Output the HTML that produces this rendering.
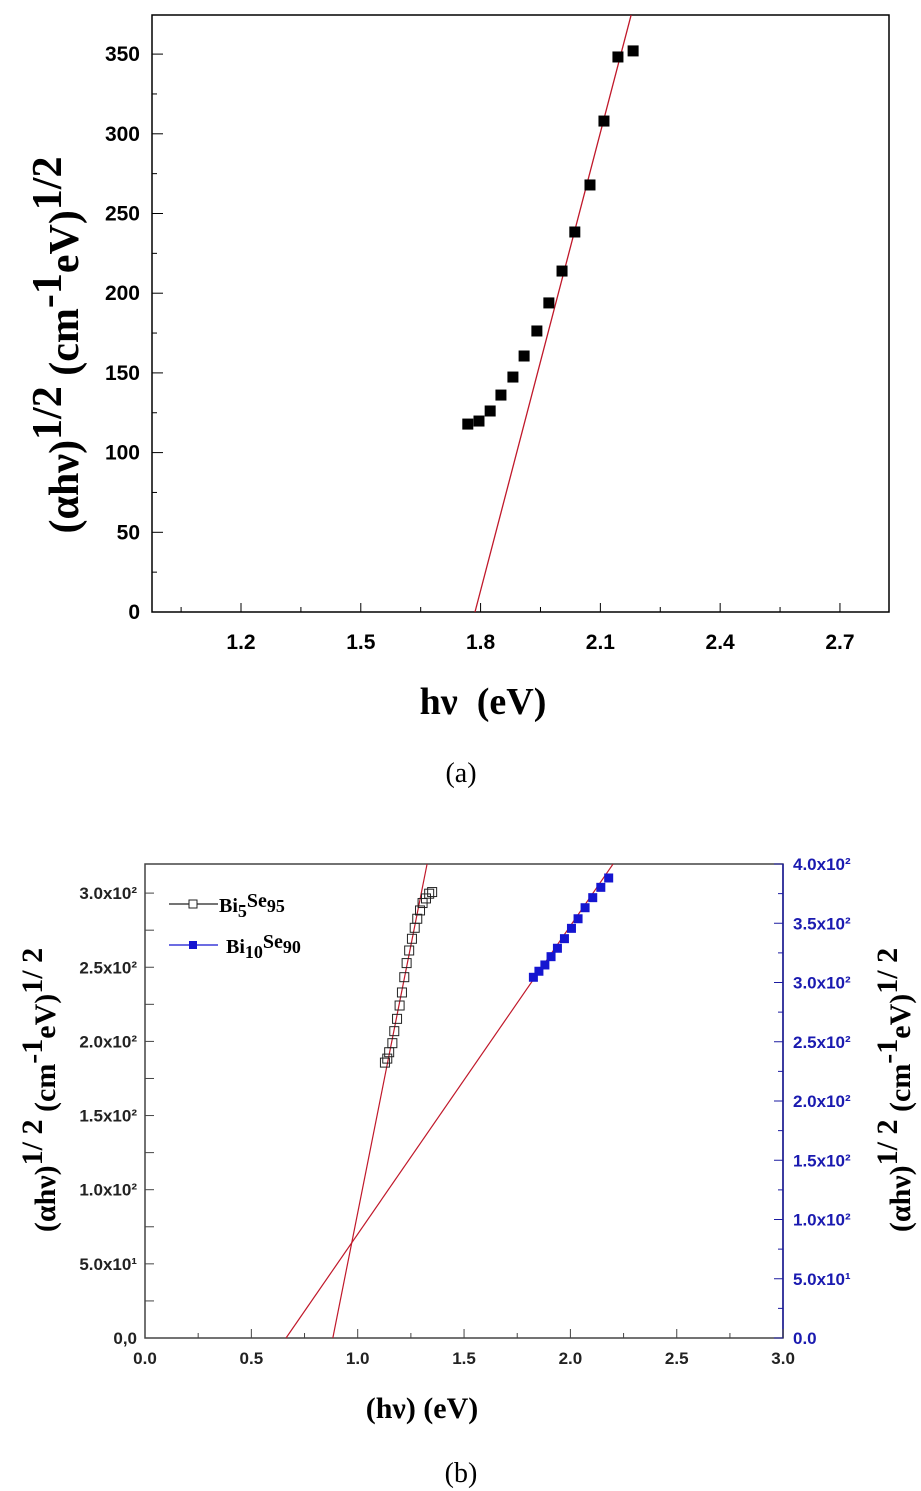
<!DOCTYPE html>
<html><head><meta charset="utf-8"><style>
body{margin:0;background:#fff;}
svg{display:block;}
.t{font-family:"Liberation Sans",Arial,sans-serif;font-weight:bold;}
.s{font-family:"Liberation Serif","Times New Roman",serif;font-weight:bold;}
</style></head><body>
<svg id="fig" width="921" height="1491" viewBox="0 0 921 1491" xmlns="http://www.w3.org/2000/svg">
<g id="ga"></g>
<g id="gb"></g>
<text class="s" transform="translate(78,345) rotate(-90)" text-anchor="middle" font-size="42">(αhν)<tspan dy="-17">1/2</tspan><tspan dy="17">  (cm</tspan><tspan dy="-17">-1</tspan><tspan dy="17">eV)</tspan><tspan dy="-17">1/2</tspan></text>
<text class="s" x="483" y="714" text-anchor="middle" font-size="38" xml:space="preserve">hν  (eV)</text>
<text x="461" y="782" text-anchor="middle" font-family="Liberation Serif,serif" font-size="28">(a)</text>
<text class="s" transform="translate(55,1090) rotate(-90)" text-anchor="middle" font-size="30">(αhν)<tspan dy="-13">1/ 2</tspan><tspan dy="13"> (cm</tspan><tspan dy="-13">-1</tspan><tspan dy="13">eV)</tspan><tspan dy="-13">1/ 2</tspan></text>
<text class="s" transform="translate(910,1090) rotate(-90)" text-anchor="middle" font-size="30">(αhν)<tspan dy="-13">1/ 2</tspan><tspan dy="13"> (cm</tspan><tspan dy="-13">-1</tspan><tspan dy="13">eV)</tspan><tspan dy="-13">1/ 2</tspan></text>
<text class="s" x="422" y="1418" text-anchor="middle" font-size="30">(hν) (eV)</text>
<text x="461" y="1482" text-anchor="middle" font-family="Liberation Serif,serif" font-size="28">(b)</text>
</svg>
<script>
// Chart A data
const aX = [1.768,1.796,1.824,1.851,1.881,1.909,1.941,1.971,2.004,2.036,2.074,2.109,2.144,2.182];
const aY = [117.9,119.8,126.1,136.1,147.4,160.6,176.3,193.9,213.9,238.4,267.9,308,348.2,352];
const aFitX = [1.786,2.177];
const aFitY = [0,374.5];
const aXTicks = [1.2,1.5,1.8,2.1,2.4,2.7];
const aXTickLabels = ["1.2","1.5","1.8","2.1","2.4","2.7"];
const aYTicks = [0,50,100,150,200,250,300,350];
const aYTickLabels = ["0","50","100","150","200","250","300","350"];
// Chart B data
const b1X = [1.128,1.139,1.148,1.163,1.172,1.185,1.197,1.208,1.219,1.230,1.242,1.255,1.268,1.280,1.293,1.305,1.321,1.336,1.350];
const b1Y = [185.7,188.4,192.7,198.8,206.9,215.2,224.2,233.0,243.3,252.8,261.3,269.2,276.6,282.7,288.3,293.3,296.4,299.6,300.7];
const b2X = [1.826,1.852,1.880,1.909,1.939,1.972,2.005,2.036,2.069,2.105,2.143,2.180];
const b2Y = [304.4,309.5,314.8,321.8,328.9,337.0,345.7,353.8,363.1,371.6,380.3,388.2];
const bFit1X = [0.883,1.326];
const bFit1Y = [0,319.5];
const bFit2X = [0.663,2.200];
const bFit2Y = [0,319.5];
const bXTicks = [0,0.5,1.0,1.5,2.0,2.5,3.0];
const bXTickLabels = ["0.0","0.5","1.0","1.5","2.0","2.5","3.0"];
const bYTicks = [0,50,100,150,200,250,300];
const bYTickLabels = ["0,0","5.0x10¹","1.0x10²","1.5x10²","2.0x10²","2.5x10²","3.0x10²"];
const bRTicks = [0,50,100,150,200,250,300,350,400];
const bRTickLabels = ["0.0","5.0x10¹","1.0x10²","1.5x10²","2.0x10²","2.5x10²","3.0x10²","3.5x10²","4.0x10²"];

const NS="http://www.w3.org/2000/svg";
function mk(parent,tag,attrs){const e=document.createElementNS(NS,tag);for(const k in attrs)e.setAttribute(k,attrs[k]);parent.appendChild(e);return e;}

// ---- Chart A ----
const ga=document.getElementById('ga');
const aL=152,aR=889,aT=15,aB=612;
const ax=v=>241+(v-1.2)*399.3;
const ay=v=>612-v*1.594;
let fr=mk(ga,'rect',{x:aL,y:aT,width:aR-aL,height:aB-aT,fill:'none',stroke:'#000','stroke-width':1.5});


for(let v=1.05;v<2.83;v+=0.15){const p=ax(v);const major=Math.abs(((v-1.2)/0.3)-Math.round((v-1.2)/0.3))<0.01;
 const t=mk(ga,'line',{x1:p,x2:p,y1:aB,y2:aB-(major?9:5),stroke:'#000','stroke-width':1});
 
 }
aXTicks.forEach((v,i)=>{const t=mk(ga,'text',{x:ax(v),y:aB+37,'text-anchor':'middle','font-size':21,class:'t'});t.textContent=aXTickLabels[i];
 
 });
for(let v=0;v<=370;v+=25){const p=ay(v);const major=v%50===0;
 const t=mk(ga,'line',{x1:aL,x2:aL+(major?11:5),y1:p,y2:p,stroke:'#000','stroke-width':1});
 
 }
aYTicks.forEach((v,i)=>{const t=mk(ga,'text',{x:aL-12,y:ay(v)+7,'text-anchor':'end','font-size':21,class:'t'});t.textContent=aYTickLabels[i];
 
 });
let fa=mk(ga,'line',{x1:ax(aFitX[0]),y1:ay(aFitY[0]),x2:ax(aFitX[1]),y2:ay(aFitY[1]),stroke:'#c0182a','stroke-width':1.3});


aX.forEach((x,i)=>{const r=mk(ga,'rect',{x:ax(x)-5.5,y:ay(aY[i])-5.5,width:11,height:11,fill:'#000'});
 
 });

// ---- Chart B ----
const gb=document.getElementById('gb');
const bL=145,bR=783,bT=864,bB=1338;
const bx=v=>145+v*212.7;
const by=v=>1338-v*1.483;
const byR=v=>1338-v*1.185;
let fb=mk(gb,'rect',{x:bL,y:bT,width:bR-bL,height:bB-bT,fill:'none',stroke:'#444','stroke-width':1.5});


let ra=mk(gb,'line',{x1:bR,x2:bR,y1:bT,y2:bB,stroke:'#1a1aa0','stroke-width':1.5});


for(let v=0;v<=3.0001;v+=0.25){const p=bx(v);const major=Math.abs(v*2-Math.round(v*2))<0.01;
 const t=mk(gb,'line',{x1:p,x2:p,y1:bB,y2:bB-(major?9:5),stroke:'#444','stroke-width':1});
 
 }
bXTicks.forEach((v,i)=>{const t=mk(gb,'text',{x:bx(v),y:bB+26,'text-anchor':'middle','font-size':17,class:'t',fill:'#222'});t.textContent=bXTickLabels[i];
 
 });
for(let v=0;v<=319;v+=25){const p=by(v);
 const t=mk(gb,'line',{x1:bL,x2:bL+9,y1:p,y2:p,stroke:'#444','stroke-width':1});
 
 }
bYTicks.forEach((v,i)=>{const t=mk(gb,'text',{x:bL-8,y:by(v)+6,'text-anchor':'end','font-size':17,class:'t',fill:'#222'});t.textContent=bYTickLabels[i];
 
 });
for(let v=0;v<=400;v+=25){const p=byR(v);
 const t=mk(gb,'line',{x1:bR,x2:bR-(v%50===0?9:5),y1:p,y2:p,stroke:'#1a1aa0','stroke-width':1});
 
 }
bRTicks.forEach((v,i)=>{const t=mk(gb,'text',{x:bR+10,y:byR(v)+6,'text-anchor':'start','font-size':17,class:'t',fill:'#1a1ab0'});t.textContent=bRTickLabels[i];
 
 });
let l1=mk(gb,'line',{x1:bx(bFit1X[0]),y1:by(bFit1Y[0]),x2:bx(bFit1X[1]),y2:by(bFit1Y[1]),stroke:'#c0182a','stroke-width':1.2});


let l2=mk(gb,'line',{x1:bx(bFit2X[0]),y1:by(bFit2Y[0]),x2:bx(bFit2X[1]),y2:by(bFit2Y[1]),stroke:'#c0182a','stroke-width':1.2});


b1X.forEach((x,i)=>{const r=mk(gb,'rect',{x:bx(x)-4.5,y:by(b1Y[i])-4.5,width:9,height:9,fill:'none',stroke:'#222','stroke-width':1});
 
 });
b2X.forEach((x,i)=>{const r=mk(gb,'rect',{x:bx(x)-4.5,y:byR(b2Y[i])-4.5,width:9,height:9,fill:'#1515d0'});
 
 });
// legend
let lg=mk(gb,'g',{});


mk(lg,'line',{x1:169,x2:218,y1:904,y2:904,stroke:'#222','stroke-width':1.3});
mk(lg,'rect',{x:189,y:900,width:8,height:8,fill:'#fff',stroke:'#222'});
let t1=mk(lg,'text',{x:219,y:912,'font-size':20,class:'s'});
t1.innerHTML='Bi<tspan dy="5" font-size="18">5</tspan><tspan dy="-10">Se</tspan><tspan dy="5" font-size="18">95</tspan>';


mk(lg,'line',{x1:169,x2:218,y1:945,y2:945,stroke:'#1515d0','stroke-width':1.3});
mk(lg,'rect',{x:189,y:941,width:8,height:8,fill:'#1515d0'});
let t2=mk(lg,'text',{x:226,y:953,'font-size':20,class:'s'});
t2.innerHTML='Bi<tspan dy="5" font-size="18">10</tspan><tspan dy="-10">Se</tspan><tspan dy="5" font-size="18">90</tspan>';


</script>
</body></html>
